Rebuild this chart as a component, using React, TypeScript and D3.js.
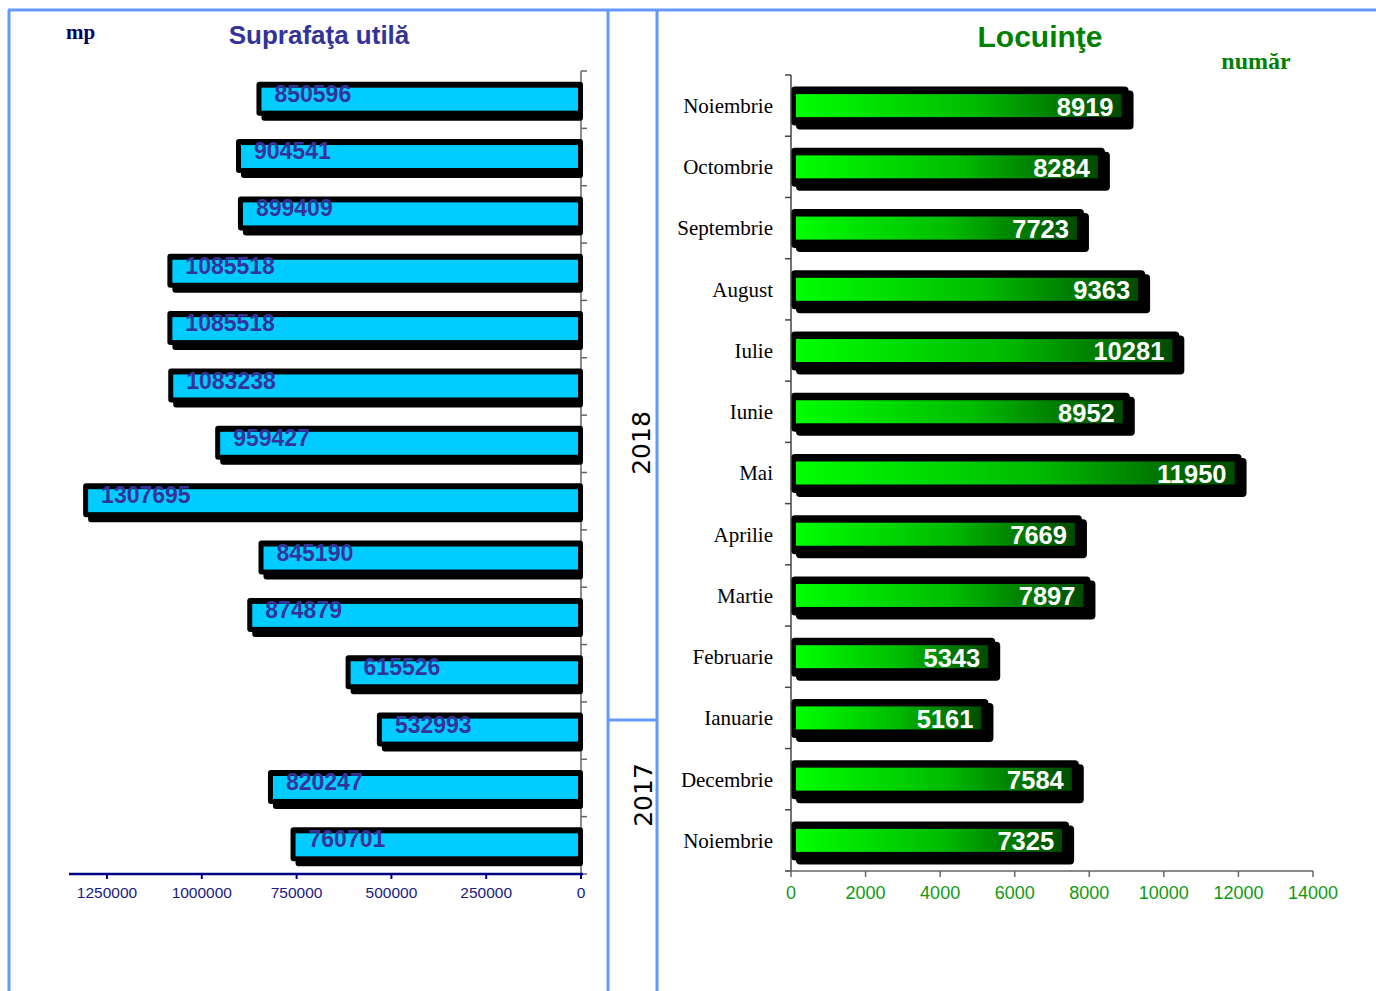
import * as d3 from 'd3';

const leftValues = [850596, 904541, 899409, 1085518, 1085518, 1083238, 959427, 1307695, 845190, 874879, 615526, 532993, 820247, 760701];
const leftTicks = [1250000, 1000000, 750000, 500000, 250000, 0];

const months = ['Noiembrie', 'Octombrie', 'Septembrie', 'August', 'Iulie', 'Iunie', 'Mai', 'Aprilie', 'Martie', 'Februarie', 'Ianuarie', 'Decembrie', 'Noiembrie'];
const dwellings = [8919, 8284, 7723, 9363, 10281, 8952, 11950, 7669, 7897, 5343, 5161, 7584, 7325];
const rightTicks = [0, 2000, 4000, 6000, 8000, 10000, 12000, 14000];

const FRAME = '#6699FF';

export default function App() {
  // left chart (reversed)
  const xL = d3.scaleLinear().domain([0, 1250000]).range([581, 107]);
  const yL = d3.scaleBand<number>().domain(d3.range(leftValues.length)).range([71, 874]);
  const yLTicks = d3.range(leftValues.length + 1).map((i) => 71 + i * yL.step());

  // right chart
  const xR = d3.scaleLinear().domain([0, 14000]).range([791, 1313]);
  const yR = d3.scaleBand<number>().domain(d3.range(months.length)).range([75, 871]);
  const yRTicks = d3.range(months.length + 1).map((i) => 75 + i * yR.step());

  return (
    <svg width={1376} height={991} style={{ position: 'absolute', left: 0, top: 0, background: '#fff' }}>
      <defs>
        <linearGradient id="green" x1="0" x2="1" y1="0" y2="0">
          <stop offset="0" stopColor="#00FF00" />
          <stop offset="0.55" stopColor="#00BB00" />
          <stop offset="1" stopColor="#004A00" />
        </linearGradient>
      </defs>

      {/* frame */}
      <g stroke={FRAME} strokeWidth={3} fill="none">
        <line x1={8} x2={1376} y1={10} y2={10} />
        <line x1={9} x2={9} y1={10} y2={991} />
        <line x1={608} x2={608} y1={10} y2={991} />
        <line x1={657} x2={657} y1={10} y2={991} />
        <line x1={608} x2={657} y1={720} y2={720} />
      </g>

      {/* ---- left: Suprafata utila ---- */}
      <text x={66} y={39} fontFamily="Liberation Serif" fontWeight="bold" fontSize={21} fill="#000066">mp</text>
      <text x={319} y={44} textAnchor="middle" fontFamily="Liberation Sans, Arial" fontWeight="bold" fontSize={26} fill="#333399">Suprafaţa utilă</text>

      <line x1={581} x2={581} y1={71} y2={874} stroke="#666" strokeWidth={1.5} />
      {yLTicks.map((y, i) => (
        <line key={i} x1={581} x2={587} y1={y} y2={y} stroke="#666" strokeWidth={1.5} />
      ))}

      {leftValues.map((v, i) => {
        const c = (yL(i) ?? 0) + yL.bandwidth() / 2;
        const left = xL(v);
        return (
          <g key={i}>
            <rect x={left + 3} y={c - 13} width={583 - left - 3} height={34} rx={3} fill="#000" />
            <rect x={left - 2} y={c - 18} width={585 - left} height={34} rx={3} fill="#000" />
            <rect x={left + 3} y={c - 12} width={578 - left - 3} height={23} fill="#00CCFF" />
            <text x={left + 16} y={c - 6} dy="0.35em" fontFamily="Liberation Sans, Arial" fontWeight="bold" fontSize={23} fill="#333399">{v}</text>
          </g>
        );
      })}

      <line x1={69} x2={583} y1={874} y2={874} stroke="#000080" strokeWidth={2.5} />
      {leftTicks.map((t) => (
        <g key={t}>
          <line x1={xL(t)} x2={xL(t)} y1={874} y2={879} stroke="#000080" strokeWidth={2} />
          <text x={xL(t)} y={898} textAnchor="middle" fontFamily="Liberation Sans, Arial" fontSize={15.5} fill="#1a1a80">{t}</text>
        </g>
      ))}

      {/* year labels */}
      <text transform="translate(650,443) rotate(-90)" textAnchor="middle" fontFamily="DejaVu Sans" fontSize={25} fill="#000">2018</text>
      <text transform="translate(652,795) rotate(-90)" textAnchor="middle" fontFamily="DejaVu Sans" fontSize={25} fill="#000">2017</text>

      {/* ---- right: Locuinte ---- */}
      <text x={1040} y={47} textAnchor="middle" fontFamily="Liberation Sans, Arial" fontWeight="bold" fontSize={30} fill="#008000">Locuinţe</text>
      <text x={1256} y={69} textAnchor="middle" fontFamily="Liberation Serif" fontWeight="bold" fontSize={24} fill="#008000">număr</text>

      {dwellings.map((v, i) => {
        const c = (yR(i) ?? 0) + yR.bandwidth() / 2;
        const right = xR(v);
        return (
          <g key={i}>
            <rect x={796} y={c - 15} width={right + 10 - 796} height={39} rx={4} fill="#000" />
            <rect x={791} y={c - 19} width={right + 5 - 791} height={39} rx={4} fill="#000" />
            <rect x={796} y={c - 11.5} width={right - 2 - 796} height={23} fill="url(#green)" />
            <text x={right - 10} y={c + 1} dy="0.35em" textAnchor="end" fontFamily="Liberation Sans, Arial" fontWeight="bold" fontSize={25.5} fill="#fff">{v}</text>
            <text x={773} y={c} dy="0.35em" textAnchor="end" fontFamily="Liberation Serif" fontSize={21} fill="#000">{months[i]}</text>
          </g>
        );
      })}

      <line x1={791} x2={791} y1={75} y2={871} stroke="#444" strokeWidth={1.5} />
      {yRTicks.map((y, i) => (
        <line key={i} x1={785} x2={791} y1={y} y2={y} stroke="#444" strokeWidth={1.5} />
      ))}
      <line x1={785} x2={1313} y1={871} y2={871} stroke="#666" strokeWidth={1.5} />
      {rightTicks.map((t) => (
        <g key={t}>
          <line x1={xR(t)} x2={xR(t)} y1={871} y2={877} stroke="#666" strokeWidth={1.5} />
          <text x={xR(t)} y={899} textAnchor="middle" fontFamily="Liberation Sans, Arial" fontSize={18} fill="#119911">{t}</text>
        </g>
      ))}
    </svg>
  );
}
